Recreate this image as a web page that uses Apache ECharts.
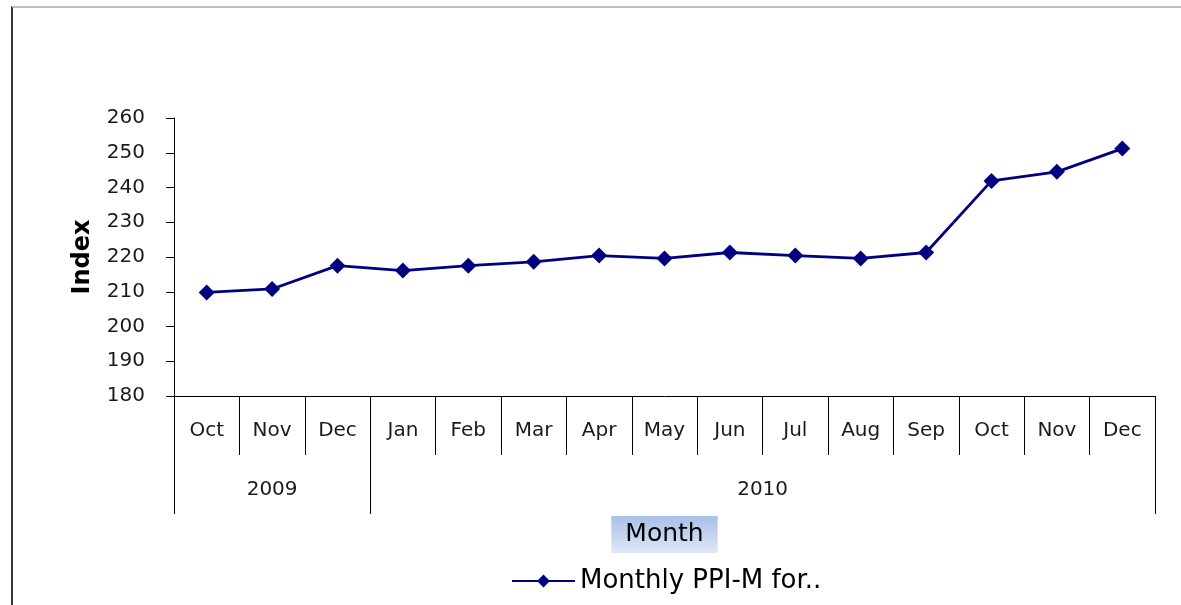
<!DOCTYPE html>
<html lang="en">
<head>
<meta charset="utf-8">
<title>Monthly PPI-M</title>
<script src="https://cdn.jsdelivr.net/npm/echarts@6/dist/echarts.min.js"></script>
<style>
    html, body { margin: 0; padding: 0; background: #fff; }
    #frame {
        position: absolute; left: 11px; top: 6px; width: 1170px; height: 599px;
        border-top: 2px solid #bdbdbd; border-left: 2px solid #3a3a3a; box-sizing: border-box;
    }
    #chart { position: absolute; left: 0; top: 0; width: 1181px; height: 605px; }
</style>
</head>
<body>
<div id="frame"></div>
<div id="chart"></div>

<script>
    // data
    var months = ['Oct', 'Nov', 'Dec', 'Jan', 'Feb', 'Mar', 'Apr', 'May', 'Jun', 'Jul', 'Aug', 'Sep', 'Oct', 'Nov', 'Dec'];
    var years = ['2009', '2010'];
    var monthsPerYear = [3, 12];
    var ppiValues = [209.8, 210.8, 217.5, 216.1, 217.5, 218.6, 220.4, 219.6, 221.3, 220.4, 219.6, 221.3, 241.9, 244.5, 251.2];
    var seriesName = 'Monthly PPI-M for..';
    var yTicks = [180, 190, 200, 210, 220, 230, 240, 250, 260];

    // year axis works on half-month slots, so group edges and group centres both land on a slot
    var yearSlots = [];
    var yearEdges = {};
    var slot = 0;
    yearEdges[0] = true;
    for (var y = 0; y < years.length; y++) {
        var n = monthsPerYear[y] * 2;
        for (var k = 0; k < n; k++) {
            yearSlots.push(k === n / 2 ? years[y] : '');
        }
        slot += n;
        yearEdges[slot] = true;
    }
    yearSlots.push('');

    var font = 'DejaVu Sans';
    var myChart = echarts.init(document.getElementById('chart'));

    var option = {
        animation: false,
        grid: { left: 174, right: 26, top: 118, bottom: 209 },
        legend: {
            data: [seriesName],
            left: 506,
            top: 563,
            itemWidth: 63,
            itemHeight: 16,
            itemGap: 5,
            textStyle: { fontFamily: font, fontSize: 26, color: '#000' }
        },
        xAxis: [
            {
                type: 'category',
                data: months,
                boundaryGap: true,
                axisLine: { show: true, lineStyle: { color: '#000', width: 1 } },
                axisTick: { show: true, interval: 0, alignWithLabel: false, length: 59, lineStyle: { color: '#000', width: 1 } },
                axisLabel: { interval: 0, margin: 25, color: '#1a1a1a', fontFamily: font, fontSize: 20 },
                name: 'Month',
                nameLocation: 'middle',
                nameGap: 120,
                nameTextStyle: {
                    fontFamily: font, fontSize: 25, color: '#000',
                    padding: [6, 14, 6, 14],
                    backgroundColor: new echarts.graphic.LinearGradient(0, 0, 0, 1, [
                        { offset: 0, color: '#a8bfe8' },
                        { offset: 1, color: '#dfe7f6' }
                    ])
                }
            },
            {
                type: 'category',
                data: yearSlots,
                position: 'bottom',
                boundaryGap: false,
                axisLine: { show: false },
                axisTick: {
                    show: true,
                    length: 118,
                    interval: function (index) { return !!yearEdges[index]; },
                    lineStyle: { color: '#000', width: 1 }
                },
                axisLabel: {
                    margin: 84,
                    interval: function (index, value) { return value !== ''; },
                    color: '#1a1a1a', fontFamily: font, fontSize: 20
                }
            }
        ],
        yAxis: {
            type: 'value',
            min: yTicks[0],
            max: yTicks[yTicks.length - 1],
            interval: yTicks[1] - yTicks[0],
            axisLine: { show: true, lineStyle: { color: '#000', width: 1 } },
            axisTick: { show: true, length: 8, lineStyle: { color: '#000' } },
            splitLine: { show: false },
            axisLabel: { margin: 29, color: '#1a1a1a', fontFamily: font, fontSize: 20 },
            name: 'Index',
            nameLocation: 'middle',
            nameGap: 79,
            nameTextStyle: { fontFamily: font, fontSize: 24, fontWeight: 'bold', color: '#000' }
        },
        series: [
            {
                name: seriesName,
                type: 'line',
                xAxisIndex: 0,
                data: ppiValues,
                symbol: 'diamond',
                symbolSize: 16,
                lineStyle: { color: '#000080', width: 2.8 },
                itemStyle: { color: '#000080' }
            }
        ]
    };

    myChart.setOption(option);
</script>
</body>
</html>
